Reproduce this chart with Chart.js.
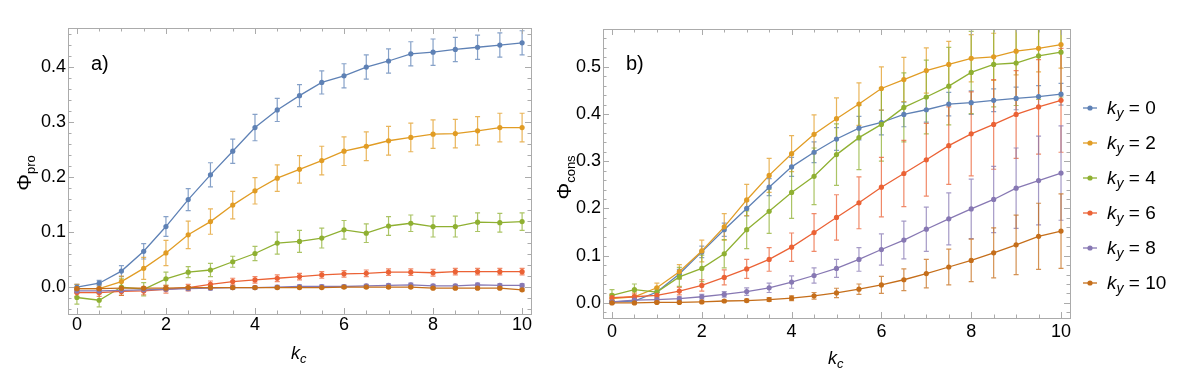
<!DOCTYPE html>
<html>
<head>
<meta charset="utf-8">
<script src="https://cdn.jsdelivr.net/npm/chart.js@4.4.0/dist/chart.umd.min.js"></script>
<style>
  body { margin: 0; background: #fff; width: 1189px; height: 377px; overflow: hidden; position: relative; }
  canvas { position: absolute; top: 0; }
</style>
</head>
<body>
<canvas id="chartA" width="545" height="377" style="left:0px"></canvas>
<canvas id="chartB" width="649" height="377" style="left:540px"></canvas>
<script>
// k_c values shared by both panels
const kc = [0, 0.5, 1, 1.5, 2, 2.5, 3, 3.5, 4, 4.5, 5, 5.5, 6, 6.5, 7, 7.5, 8, 8.5, 9, 9.5, 10];
const kyValues = ["0", "2", "4", "6", "8", "10"];
const xTicks = [0, 2, 4, 6, 8, 10];
const proTicks = [0, 0.1, 0.2, 0.3, 0.4];
const consTicks = [0, 0.1, 0.2, 0.3, 0.4, 0.5];

// panel a) Phi_pro
const proKy0 = [0.000, 0.007, 0.029, 0.065, 0.110, 0.159, 0.204, 0.247, 0.290, 0.322, 0.348, 0.372, 0.384, 0.400, 0.411, 0.424, 0.427, 0.432, 0.436, 0.440, 0.444];
const proKy0Err = [0.005, 0.005, 0.010, 0.014, 0.018, 0.020, 0.022, 0.022, 0.024, 0.021, 0.020, 0.021, 0.022, 0.022, 0.022, 0.022, 0.024, 0.022, 0.022, 0.022, 0.022];
const proKy2 = [-0.003, -0.003, 0.010, 0.034, 0.062, 0.095, 0.119, 0.149, 0.175, 0.198, 0.214, 0.230, 0.247, 0.256, 0.266, 0.272, 0.278, 0.279, 0.284, 0.290, 0.290];
const proKy2Err = [0.008, 0.007, 0.010, 0.020, 0.023, 0.025, 0.023, 0.025, 0.024, 0.024, 0.025, 0.026, 0.026, 0.026, 0.026, 0.026, 0.026, 0.026, 0.026, 0.026, 0.026];
const proKy4 = [-0.019, -0.024, 0.000, -0.004, 0.015, 0.027, 0.031, 0.046, 0.061, 0.080, 0.083, 0.089, 0.104, 0.098, 0.111, 0.116, 0.110, 0.110, 0.118, 0.117, 0.119];
const proKy4Err = [0.012, 0.012, 0.015, 0.012, 0.012, 0.010, 0.012, 0.010, 0.013, 0.020, 0.020, 0.018, 0.017, 0.017, 0.017, 0.015, 0.019, 0.019, 0.017, 0.017, 0.016];
const proKy6 = [-0.010, -0.010, -0.008, -0.007, -0.004, -0.001, 0.005, 0.010, 0.013, 0.016, 0.019, 0.022, 0.024, 0.025, 0.027, 0.027, 0.026, 0.028, 0.028, 0.028, 0.028];
const proKy6Err = [0.007, 0.007, 0.007, 0.007, 0.007, 0.006, 0.006, 0.006, 0.006, 0.006, 0.006, 0.006, 0.006, 0.006, 0.006, 0.006, 0.006, 0.006, 0.006, 0.006, 0.006];
const proKy8 = [-0.007, -0.007, -0.006, -0.005, -0.004, -0.003, -0.002, -0.001, -0.001, 0.000, 0.001, 0.001, 0.001, 0.002, 0.003, 0.004, 0.002, 0.002, 0.004, 0.003, 0.003];
const proKy8Err = [0.003, 0.003, 0.003, 0.003, 0.003, 0.003, 0.003, 0.003, 0.003, 0.003, 0.003, 0.003, 0.003, 0.003, 0.003, 0.003, 0.003, 0.003, 0.003, 0.003, 0.003];
const proKy10 = [-0.003, -0.003, -0.002, -0.002, -0.002, -0.001, -0.001, -0.001, -0.001, -0.001, -0.001, -0.001, 0.000, 0.000, 0.000, 0.000, -0.002, -0.002, -0.002, -0.002, -0.005];
const proKy10Err = [0.002, 0.002, 0.002, 0.002, 0.002, 0.002, 0.002, 0.002, 0.002, 0.002, 0.002, 0.002, 0.002, 0.002, 0.002, 0.002, 0.002, 0.002, 0.002, 0.002, 0.002];

// panel b) Phi_cons
const consKy0 = [0.002, 0.004, 0.023, 0.061, 0.108, 0.155, 0.200, 0.245, 0.288, 0.319, 0.347, 0.370, 0.382, 0.399, 0.409, 0.421, 0.424, 0.429, 0.433, 0.437, 0.442];
const consKy0Err = [0.003, 0.004, 0.006, 0.010, 0.012, 0.014, 0.016, 0.018, 0.020, 0.022, 0.024, 0.025, 0.026, 0.026, 0.026, 0.025, 0.025, 0.024, 0.024, 0.023, 0.023];
const consKy2 = [0.009, 0.013, 0.032, 0.066, 0.110, 0.161, 0.218, 0.270, 0.316, 0.357, 0.390, 0.421, 0.454, 0.473, 0.492, 0.505, 0.518, 0.521, 0.533, 0.539, 0.547];
const consKy2Err = [0.010, 0.010, 0.010, 0.015, 0.023, 0.028, 0.033, 0.036, 0.038, 0.041, 0.044, 0.045, 0.046, 0.047, 0.048, 0.049, 0.050, 0.050, 0.050, 0.050, 0.050];
const consKy4 = [0.016, 0.028, 0.023, 0.055, 0.073, 0.104, 0.155, 0.194, 0.234, 0.268, 0.314, 0.350, 0.378, 0.414, 0.436, 0.459, 0.488, 0.505, 0.508, 0.523, 0.531];
const consKy4Err = [0.012, 0.012, 0.010, 0.020, 0.028, 0.030, 0.040, 0.047, 0.055, 0.060, 0.065, 0.068, 0.078, 0.073, 0.078, 0.082, 0.087, 0.090, 0.090, 0.092, 0.095];
const consKy6 = [0.011, 0.013, 0.016, 0.025, 0.037, 0.054, 0.072, 0.092, 0.118, 0.149, 0.181, 0.212, 0.245, 0.274, 0.303, 0.333, 0.358, 0.378, 0.399, 0.415, 0.429];
const consKy6Err = [0.006, 0.006, 0.006, 0.008, 0.012, 0.016, 0.020, 0.025, 0.030, 0.040, 0.048, 0.055, 0.063, 0.070, 0.077, 0.082, 0.089, 0.095, 0.093, 0.100, 0.110];
const consKy8 = [0.002, 0.006, 0.007, 0.009, 0.013, 0.018, 0.024, 0.032, 0.044, 0.058, 0.073, 0.092, 0.113, 0.133, 0.156, 0.178, 0.199, 0.219, 0.243, 0.259, 0.275];
const consKy8Err = [0.003, 0.003, 0.004, 0.004, 0.005, 0.006, 0.008, 0.010, 0.013, 0.016, 0.019, 0.025, 0.033, 0.040, 0.047, 0.055, 0.063, 0.070, 0.085, 0.094, 0.100];
const consKy10 = [0.000, 0.000, 0.001, 0.001, 0.002, 0.004, 0.005, 0.007, 0.010, 0.015, 0.021, 0.029, 0.038, 0.049, 0.062, 0.076, 0.090, 0.106, 0.123, 0.141, 0.152];
const consKy10Err = [0.002, 0.002, 0.002, 0.002, 0.002, 0.002, 0.003, 0.004, 0.005, 0.007, 0.010, 0.011, 0.018, 0.023, 0.030, 0.038, 0.045, 0.053, 0.063, 0.070, 0.079];

const colors = ['#5E81B5', '#E19C24', '#8FB032', '#EB6235', '#8778B3', '#C56E1A'];
const errColors = ['rgba(94,129,181,0.75)', 'rgba(225,156,36,0.75)', 'rgba(143,176,50,0.75)', 'rgba(235,98,53,0.75)', 'rgba(135,120,179,0.75)', 'rgba(197,110,26,0.75)'];
const FONT = '"Liberation Sans", Arial, sans-serif';

function makeDatasets(vals, errs) {
  return vals.map((v, i) => ({
    label: 'k_y = ' + kyValues[i],
    data: kc.map((x, j) => ({ x: x, y: v[j] })),
    err: errs[i],
    errColor: errColors[i],
    borderColor: colors[i],
    backgroundColor: colors[i],
    borderWidth: 1.3,
    pointRadius: 2.6,
    pointBorderWidth: 0,
    tension: 0,
    order: 5 - i
  }));
}

// error bars, drawn through the chart scales
const errorBars = {
  id: 'errorBars',
  beforeDatasetsDraw(chart) {
    const ctx = chart.ctx, a = chart.chartArea;
    const xs = chart.scales.x, ys = chart.scales.y;
    ctx.save();
    ctx.beginPath();
    ctx.rect(a.left, a.top, a.right - a.left, a.bottom - a.top);
    ctx.clip();
    chart.data.datasets.forEach(ds => {
      ctx.strokeStyle = ds.errColor;
      ctx.lineWidth = 1.2;
      ds.data.forEach((p, i) => {
        const px = xs.getPixelForValue(p.x);
        const y1 = ys.getPixelForValue(p.y - ds.err[i]);
        const y2 = ys.getPixelForValue(p.y + ds.err[i]);
        ctx.beginPath();
        ctx.moveTo(px, y1); ctx.lineTo(px, y2);
        ctx.moveTo(px - 2.5, y1); ctx.lineTo(px + 2.5, y1);
        ctx.moveTo(px - 2.5, y2); ctx.lineTo(px + 2.5, y2);
        ctx.stroke();
      });
    });
    ctx.restore();
  }
};

// Mathematica style frame with inward ticks
const frame = {
  id: 'frame',
  afterDraw(chart) {
    const ctx = chart.ctx, a = chart.chartArea;
    const xs = chart.scales.x, ys = chart.scales.y;
    const yMax = chart.options.scales.y.max, yMin = chart.options.scales.y.min;
    ctx.save();
    ctx.strokeStyle = '#ababab';
    ctx.lineWidth = 1;
    ctx.strokeRect(Math.round(a.left) + 0.5, Math.round(a.top) + 0.5, Math.round(a.right - a.left), Math.round(a.bottom - a.top));
    ctx.beginPath();
    for (let i = 0; i <= 20; i++) {
      const v = i * 0.5;
      const px = Math.round(xs.getPixelForValue(v)) + 0.5;
      const len = (i % 4 === 0) ? 6 : 3.5;
      ctx.moveTo(px, a.bottom); ctx.lineTo(px, a.bottom - len);
      ctx.moveTo(px, a.top); ctx.lineTo(px, a.top + len);
    }
    for (let i = Math.ceil(yMin / 0.02); i * 0.02 <= yMax; i++) {
      const py = Math.round(ys.getPixelForValue(i * 0.02)) + 0.5;
      const len = (i % 5 === 0) ? 6 : 3.5;
      ctx.moveTo(a.left, py); ctx.lineTo(a.left + len, py);
      ctx.moveTo(a.right, py); ctx.lineTo(a.right - len, py);
    }
    ctx.stroke();
    ctx.restore();
  }
};

function subText(ctx, main, sub, mainFont, subFont, x, y, drop) {
  ctx.font = mainFont;
  ctx.fillText(main, x, y);
  const w = ctx.measureText(main).width;
  ctx.font = subFont;
  ctx.fillText(sub, x + w, y + drop);
  return w + ctx.measureText(sub).width;
}

// panel letter, axis titles and legend
const titles = {
  id: 'titles',
  afterDraw(chart) {
    const o = chart.options.plugins.titles;
    const ctx = chart.ctx, a = chart.chartArea;
    ctx.save();
    ctx.fillStyle = '#000';
    ctx.textBaseline = 'alphabetic';
    ctx.font = '20px ' + FONT;
    ctx.fillText(o.letter, a.left + 23, 70);
    // x title k_c
    ctx.font = 'italic 18px ' + FONT;
    const xw = ctx.measureText('k').width + 8;
    subText(ctx, 'k', 'c', 'italic 18px ' + FONT, 'italic 13px ' + FONT, (a.left + a.right) / 2 - xw / 2, o.xTitleY, 4);
    // y title Phi_sub, rotated
    ctx.translate(o.yTitleX, (a.top + a.bottom) / 2);
    ctx.rotate(-Math.PI / 2);
    ctx.font = '21px ' + FONT;
    const w1 = ctx.measureText('\u03A6').width;
    ctx.font = '13px ' + FONT;
    const w2 = ctx.measureText(o.sub).width;
    subText(ctx, '\u03A6', o.sub, '21px ' + FONT, '13px ' + FONT, -(w1 + w2) / 2 + o.yShift, 0, 4);
    ctx.restore();
    if (o.legend) {
      ctx.save();
      chart.data.datasets.forEach((ds, i) => {
        const y = 108 + i * 35;
        const x0 = chart.width - 106;
        ctx.strokeStyle = ds.borderColor;
        ctx.lineWidth = 1.3;
        ctx.beginPath(); ctx.moveTo(x0, y); ctx.lineTo(x0 + 14, y); ctx.stroke();
        ctx.fillStyle = ds.borderColor;
        ctx.beginPath(); ctx.arc(x0 + 7, y, 2.6, 0, Math.PI * 2); ctx.fill();
        ctx.fillStyle = '#000';
        const w = subText(ctx, 'k', 'y', 'italic 19px ' + FONT, 'italic 14px ' + FONT, x0 + 24, y + 6, 4);
        ctx.font = '19px ' + FONT;
        ctx.fillText(' = ' + kyValues[i], x0 + 24 + w, y + 6);
      });
      ctx.restore();
    }
  }
};

function makePanel(id, vals, errs, yMin, yMax, yTicks, o) {
  return new Chart(document.getElementById(id), {
    type: 'line',
    data: { datasets: makeDatasets(vals, errs) },
    options: {
      responsive: false,
      animation: false,
      devicePixelRatio: 1,
      layout: { padding: { top: o.top, right: o.right, left: 0, bottom: 0 } },
      plugins: { legend: { display: false }, tooltip: { enabled: false }, titles: o },
      scales: {
        x: {
          type: 'linear', min: -0.2, max: 10.2,
          grid: { display: false, drawTicks: false },
          border: { display: false },
          afterBuildTicks: s => { s.ticks = xTicks.map(v => ({ value: v })); },
          afterFit: s => { s.height = o.xHeight; },
          ticks: { color: '#000', padding: o.xPad, maxRotation: 0, font: { family: FONT, size: 18 } }
        },
        y: {
          type: 'linear', min: yMin, max: yMax,
          grid: { display: false, drawTicks: false },
          border: { display: false },
          afterBuildTicks: s => { s.ticks = yTicks.map(v => ({ value: v })); },
          afterFit: s => { s.width = o.yWidth; },
          ticks: { color: '#000', padding: 2, font: { family: FONT, size: 18 }, callback: v => v.toFixed(1) }
        }
      }
    },
    plugins: [errorBars, frame, titles]
  });
}

makePanel('chartA',
  [proKy0, proKy2, proKy4, proKy6, proKy8, proKy10],
  [proKy0Err, proKy2Err, proKy4Err, proKy6Err, proKy8Err, proKy10Err],
  -0.049, 0.471, proTicks,
  { letter: 'a)', sub: 'pro', top: 28, right: 14, xHeight: 63, yWidth: 68, xPad: 0, xTitleY: 359, yTitleX: 31, yShift: -2, legend: false });

makePanel('chartB',
  [consKy0, consKy2, consKy4, consKy6, consKy8, consKy10],
  [consKy0Err, consKy2Err, consKy4Err, consKy6Err, consKy8Err, consKy10Err],
  -0.032, 0.58, consTicks,
  { letter: 'b)', sub: 'cons', top: 29, right: 119, xHeight: 59, yWidth: 63, xPad: 3, xTitleY: 364, yTitleX: 31, yShift: -4, legend: true });
</script>
</body>
</html>
